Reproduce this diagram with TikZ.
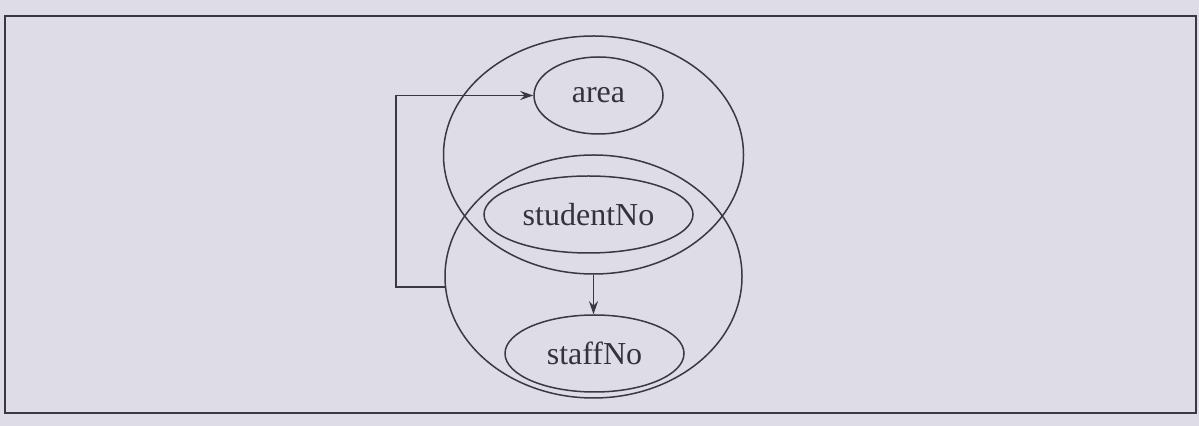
\documentclass[tikz,border=0pt]{standalone}
\usepackage{fontspec}
\setmainfont{Liberation Serif}
\usetikzlibrary{arrows.meta,shapes.geometric}
\definecolor{paper}{RGB}{221,220,231}
\definecolor{ink}{RGB}{58,56,66}
\tikzset{
  attr/.style={ellipse, draw=ink, line width=0.75pt, inner sep=0pt,
    minimum height=38.5pt, font=\fontsize{16}{19}\selectfont, text=ink!90!black},
  group/.style={ellipse, draw=ink, line width=0.75pt, inner sep=0pt},
  fd/.style={draw=ink, line width=0.75pt, -{Stealth[length=6.5pt,width=4.5pt]}}
}
\begin{document}
\begin{tikzpicture}[x=0.5pt,y=-0.5pt]
  % page and frame
  \fill[paper] (0,0) rectangle (1199,426);
  \useasboundingbox (0,0) rectangle (1199,426);
  \draw[ink, line width=1pt] (4.5,16) rectangle (1196,413);

  % enclosing determinant groups
  \node[group, minimum width=150pt, minimum height=119pt] (top) at (593.5,155) {};
  \node[group, minimum width=148.5pt, minimum height=121.5pt] (bot) at (593.5,276.5) {};

  % attributes
  \node[attr, minimum width=64.5pt] (area) at (598.5,95.5) {area};
  \node[attr, minimum width=104.5pt] (stud) at (588.5,214.5) {studentNo};
  \node[attr, minimum width=89.5pt] (staff) at (594.5,353.5) {staffNo};

  % dependencies
  \draw[fd] (bot.184) -- ++(-49,0) |- (area.west);
  \draw[fd] (top.south) -- (top.south |- staff.north);
\end{tikzpicture}
\end{document}
